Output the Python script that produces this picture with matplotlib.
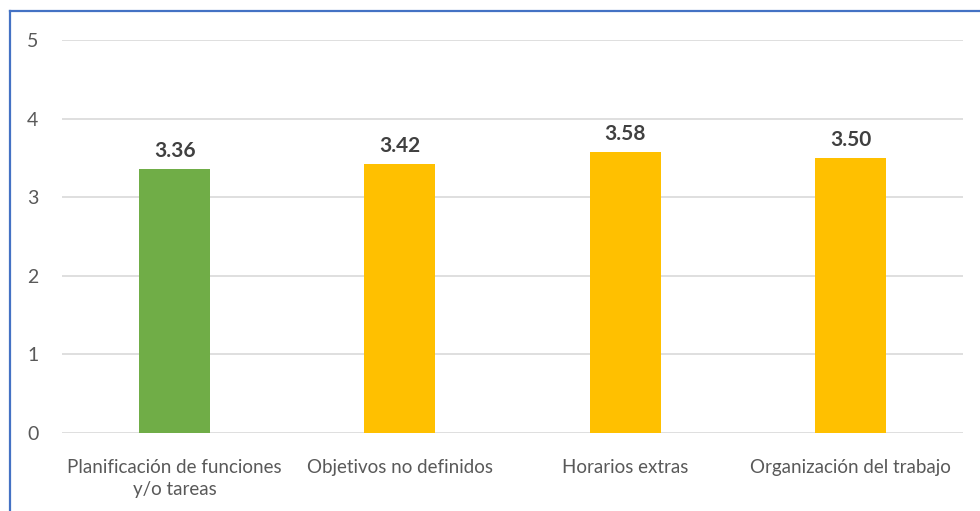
import matplotlib
matplotlib.use("Agg")
import matplotlib.pyplot as plt
from matplotlib.lines import Line2D

# Average score per aspect of work organisation
categories = ["Planificación de funciones\ny/o tareas", "Objetivos no definidos",
              "Horarios extras", "Organización del trabajo"]
scores = [3.36, 3.42, 3.58, 3.50]
bar_colors = ["#70AD47", "#FFC000", "#FFC000", "#FFC000"]
y_ticks = [0, 1, 2, 3, 4, 5]

plt.rcParams["font.family"] = ["Lato", "DejaVu Sans"]

W, H = 980, 511
fig = plt.figure(figsize=(W / 100, H / 100), dpi=100)
ax = fig.add_axes([62 / W, (H - 433) / H, (963 - 62) / W, (433 - 40) / H])

x = range(len(categories))
bars = ax.bar(x, scores, width=0.315, color=bar_colors, zorder=3)

for rect, val in zip(bars, scores):
    ax.annotate(f"{val:.2f}", (rect.get_x() + rect.get_width() / 2, val),
                xytext=(0, 13), textcoords="offset points", ha="center", va="center",
                fontsize=15, fontweight="bold", color="#404040")

ax.set_xlim(-0.5, len(categories) - 0.5)
ax.set_ylim(0, 5)
ax.set_yticks(y_ticks)
ax.set_xticks(list(x))
ax.set_xticklabels(categories, fontsize=13.5, color="#595959", linespacing=1.35)
ax.tick_params(axis="y", labelsize=14, labelcolor="#595959", length=0, pad=17)
ax.tick_params(axis="x", length=0, pad=19)
ax.yaxis.grid(True, color="#D9D9D9", linewidth=1.2, zorder=0)
for s in ax.spines.values():
    s.set_visible(False)

# blue frame around the chart area
frame = dict(color="#4472C4", linewidth=1.6, transform=fig.transFigure)
fig.add_artist(Line2D([10 / W, 10 / W], [0, 1 - 11 / H], **frame))
fig.add_artist(Line2D([10 / W, 1], [1 - 11 / H, 1 - 11 / H], **frame))

fig.savefig("out.png", dpi=100)
